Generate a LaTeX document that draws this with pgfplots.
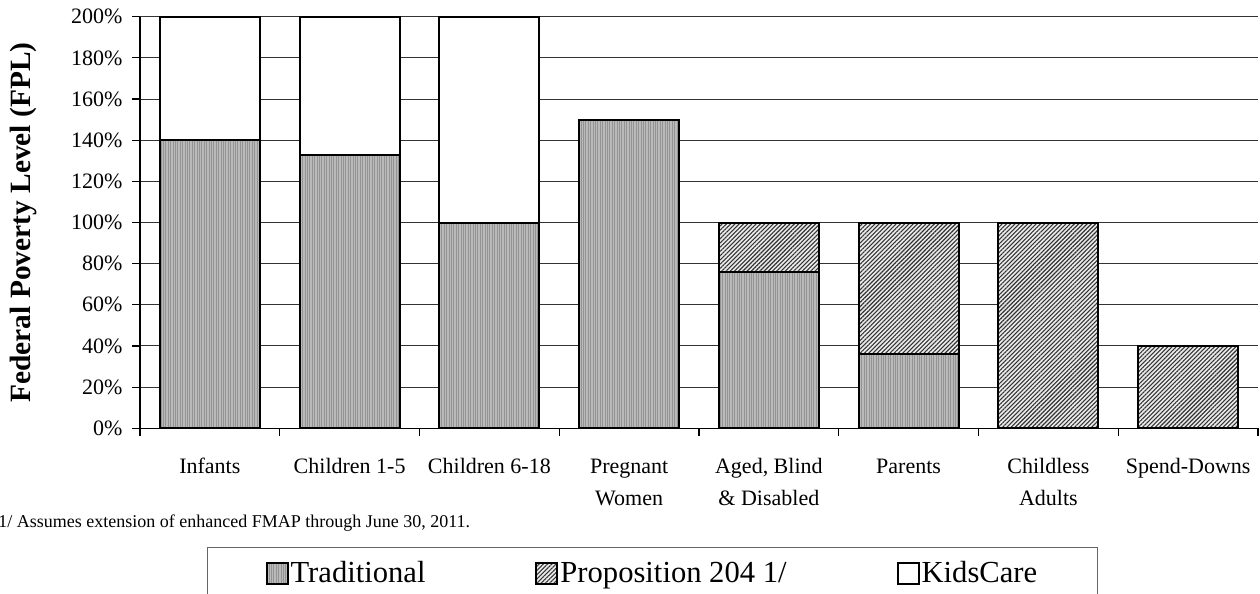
\documentclass[border=0pt]{standalone}
\usepackage{fontspec}
\setmainfont{Liberation Serif}
\usepackage{pgfplots}
\pgfplotsset{compat=1.18}
\usetikzlibrary{patterns.meta}

\tikzset{
  trad/.style={preaction={fill=black!27}, pattern={Lines[angle=90,distance=1.2pt,line width=0.3pt]}, pattern color=black!42, draw=black, line width=1pt},
  prop/.style={preaction={fill=black!8}, pattern={Lines[angle=45,distance=1.5pt,line width=0.55pt]}, pattern color=black!80, draw=black, line width=1pt},
  kids/.style={fill=white, draw=black, line width=1pt},
}
\pgfplotsset{
  sqlegend/.style={legend image code/.code={\draw[##1] (0pt,-5.25pt) rectangle (10.5pt,5.25pt);}},
}

\begin{document}
\begin{tikzpicture}
\begin{axis}[
  at={(70pt,-214.15pt)}, anchor=south west,
  scale only axis, width=559pt, height=205.8pt,
  ybar stacked, bar width=0.716,
  xmin=-0.5, xmax=7.5, ymin=0, ymax=200,
  axis lines*=left,
  axis line style={black, line width=0.6pt},
  xtick={-0.5,0.5,...,7.5},
  x tick label as interval,
  xticklabels={Infants, Children 1-5, Children 6-18, Pregnant\\Women, {Aged, Blind\\\& Disabled}, Parents, Childless\\Adults, Spend-Downs},
  ytick={0,20,...,200},
  /pgf/number format/assume math mode=true,
  yticklabel={\pgfmathprintnumber{\tick}\%},
  tick align=outside,
  major tick length=3.75pt,
  tick style={black, line width=0.6pt},
  ymajorgrids, major grid style={black!80, line width=0.5pt},
  tick label style={font=\fontsize{11}{16}\selectfont},
  typeset ticklabels with strut,
  xticklabel style={align=center, yshift=-4pt},
  yticklabel style={xshift=-1.5pt},
  ylabel={Federal Poverty Level (FPL)},
  ylabel style={font=\bfseries\fontsize{14.7}{17}\selectfont, at={(axis description cs:-0.1038,0.5)}, anchor=center},
  legend style={at={(axis description cs:0.05993,-0.2884)}, anchor=north west,
    draw=black!60, line width=0.6pt, legend columns=3,
    font=\fontsize{15.3}{18}\selectfont,
    inner xsep=29pt, inner ysep=6pt,
    nodes={inner xsep=1pt, inner ysep=1pt},
    /tikz/every even column/.append style={column sep=54pt}},
  legend cell align=left,
]
\addplot[trad, sqlegend] coordinates {(0,140) (1,133) (2,100) (3,150) (4,76) (5,36) (6,0) (7,0)};
\addplot[prop, sqlegend] coordinates {(0,0) (1,0) (2,0) (3,0) (4,24) (5,64) (6,100) (7,40)};
\addplot[kids, sqlegend] coordinates {(0,60) (1,67) (2,100) (3,0) (4,0) (5,0) (6,0) (7,0)};
\legend{Traditional, Proposition 204 1/, KidsCare}
\end{axis}
\node[anchor=base west, inner sep=0pt, font=\fontsize{9}{11}\selectfont] at (-1pt,-263.5pt) {1/ Assumes extension of enhanced FMAP through June 30, 2011.};
\pgfresetboundingbox
\path[use as bounding box] (0pt,0pt) rectangle (630pt,-297pt);
\end{tikzpicture}
\end{document}
